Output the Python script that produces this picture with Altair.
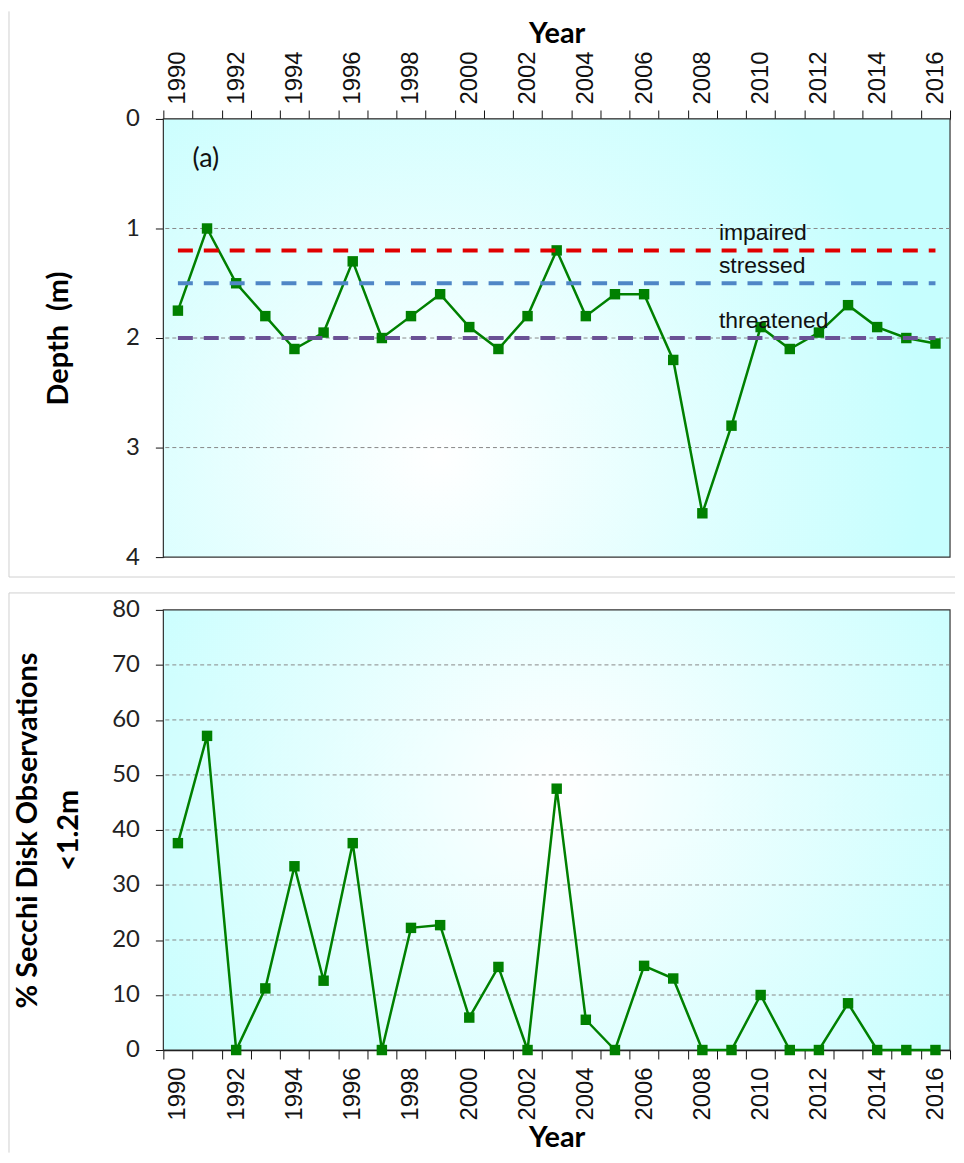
import altair as alt
import pandas as pd

# ---------------- data ----------------
years = list(range(1990, 2017))
depth_m = [1.75, 1.0, 1.5, 1.8, 2.1, 1.95, 1.3, 2.0, 1.8, 1.6, 1.9, 2.1, 1.8, 1.2,
           1.8, 1.6, 1.6, 2.2, 3.6, 2.8, 1.9, 2.1, 1.95, 1.7, 1.9, 2.0, 2.05]
pct_below = [37.6, 57.1, 0, 11.2, 33.4, 12.6, 37.6, 0, 22.2, 22.7, 5.9, 15.1, 0, 47.5,
             5.5, 0, 15.3, 13.0, 0, 0, 10.0, 0, 0, 8.5, 0, 0, 0]
thr_names = ["impaired", "stressed", "threatened"]
thr_values = [1.2, 1.5, 2.0]
thr_colors = ["#E00000", "#4F86C6", "#6A5195"]
thr_label_year = [2009, 2009, 2009]
depth_ticks = [0, 1, 2, 3, 4]
depth_grid = [1, 2, 3]
pct_ticks = list(range(0, 81, 10))
pct_grid = list(range(10, 80, 10))
panel_label = ["(a)"]
panel_label_year = [1991]
panel_label_depth = [0.37]

df_top = pd.DataFrame({"year": years, "depth": depth_m})
df_bot = pd.DataFrame({"year": years, "pct": pct_below})
thr_rows = []
for n, v in zip(thr_names, thr_values):
    thr_rows.append({"year": years[0], "value": v, "name": n})
    thr_rows.append({"year": years[-1], "value": v, "name": n})
df_thr = pd.DataFrame(thr_rows)
df_thr_lab = pd.DataFrame({"year": thr_label_year, "value": thr_values, "name": thr_names})
df_a = pd.DataFrame({"year": panel_label_year, "value": panel_label_depth, "label": panel_label})
df_gt = pd.DataFrame({"value": depth_grid})
df_gb = pd.DataFrame({"value": pct_grid})

# ---------------- style ----------------
GREEN = "#008000"
W, H_TOP, H_BOT = 790, 440, 442
LABEL_FONT = "Liberation Sans"
NUM_FONT = "Lato"
TITLE_FONT = "Lato"
FRAME = "#D0D0D0"


def grad(cx, cy):
    return {
        "gradient": "radial",
        "x1": cx, "y1": cy, "r1": 0,
        "x2": cx, "y2": cy, "r2": 0.62,
        "stops": [
            {"offset": 0, "color": "#FFFFFF"},
            {"offset": 1, "color": "#C6FEFE"},
        ],
    }


xscale = alt.Scale(type="band", domain=years, paddingInner=0, paddingOuter=0)


def x_axis(orient, label_pad, title_pad):
    return alt.Axis(
        orient=orient, title="Year", labelAngle=-90, tickBand="extent", grid=False,
        labelExpr="datum.value % 2 == 0 ? datum.label : ''",
        labelFont=LABEL_FONT, labelFontSize=24, labelColor="#111",
        labelPadding=label_pad, tickSize=9, tickColor="#111", domainColor="#111", domainWidth=1.5,
        titleFont=TITLE_FONT, titleFontSize=29, titleFontWeight="bold", titleColor="#000",
        titlePadding=title_pad,
    )


def y_axis(title, values, title_pad, **kw):
    return alt.Axis(
        title=title, values=values, grid=False, format="d",
        labelFont=NUM_FONT, labelFontSize=24, labelColor="#222",
        labelPadding=16, tickSize=8, tickColor="#111", domainColor="#111", domainWidth=1.5,
        titleFont=TITLE_FONT, titleFontSize=29, titleFontWeight="bold", titleColor="#000",
        titlePadding=title_pad, **kw,
    )


blank = alt.Data(values=[{}])


def background(cx, cy):
    return alt.Chart(blank).mark_rect(fill=grad(cx, cy), stroke="#333333", strokeWidth=1.2).encode(
        x=alt.value(0), x2=alt.value("width"), y=alt.value(0), y2=alt.value("height"))


def gridlines(df, field):
    return alt.Chart(df).mark_rule(color="#888888", strokeWidth=1, strokeDash=[4, 3]).encode(
        y=alt.Y(f"{field}:Q"))


# ---------------- top chart ----------------
xt = alt.X("year:O", scale=xscale, bandPosition=0.5, axis=x_axis("top", 6, 2))
yt = alt.Y("depth:Q", scale=alt.Scale(domain=[0, 4], reverse=True, nice=False, zero=False),
           axis=y_axis("Depth\u00a0 (m)", depth_ticks, 52))

top_line = alt.Chart(df_top).mark_line(color=GREEN, strokeWidth=2.5).encode(x=xt, y=yt)
top_pts = alt.Chart(df_top).mark_square(color=GREEN, size=110, opacity=1).encode(
    x=alt.X("year:O", bandPosition=0.5), y="depth:Q")
thr_lines = alt.Chart(df_thr).mark_line(strokeWidth=4, strokeDash=[15, 11]).encode(
    x=alt.X("year:O", bandPosition=0.5),
    y=alt.Y("value:Q"),
    color=alt.Color("name:N", scale=alt.Scale(domain=thr_names, range=thr_colors), legend=None),
    detail="name:N",
)
thr_text = alt.Chart(df_thr_lab).mark_text(
    align="left", baseline="alphabetic", dx=2, dy=-10, font=LABEL_FONT, fontSize=23, color="#111"
).encode(x=alt.X("year:O", bandPosition=0), y=alt.Y("value:Q"), text="name:N")
a_text = alt.Chart(df_a).mark_text(
    align="left", baseline="middle", font=NUM_FONT, fontSize=27, color="#111"
).encode(x=alt.X("year:O", bandPosition=0), y=alt.Y("value:Q"), text="label:N")

top_frame_left = alt.Chart(blank).mark_rule(color=FRAME, strokeWidth=1).encode(
    x=alt.value(-155), y=alt.value(-108), y2=alt.value(460))
top_frame_bottom = alt.Chart(blank).mark_rule(color=FRAME, strokeWidth=1).encode(
    x=alt.value(-155), x2=alt.value(795), y=alt.value(460))

top = alt.layer(background(0.35, 0.65), gridlines(df_gt, "value"),
                top_line, top_pts, thr_lines, thr_text, a_text,
                top_frame_left, top_frame_bottom).properties(width=W, height=H_TOP)

# ---------------- bottom chart ----------------
xb = alt.X("year:O", scale=xscale, bandPosition=0.5, axis=x_axis("bottom", 8, 3))
yb = alt.Y("pct:Q", scale=alt.Scale(domain=[0, 80], nice=False),
           axis=y_axis(["% Secchi Disk Observations", "<1.2m"], pct_ticks, 28,
                       titleLineHeight=42))

bot_line = alt.Chart(df_bot).mark_line(color=GREEN, strokeWidth=2.5).encode(x=xb, y=yb)
bot_pts = alt.Chart(df_bot).mark_square(color=GREEN, size=110, opacity=1).encode(
    x=alt.X("year:O", bandPosition=0.5), y="pct:Q")

bot_frame_top = alt.Chart(blank).mark_rule(color=FRAME, strokeWidth=1).encode(
    x=alt.value(-155), x2=alt.value(795), y=alt.value(-17))
bot_frame_left = alt.Chart(blank).mark_rule(color=FRAME, strokeWidth=1).encode(
    x=alt.value(-155), y=alt.value(-17), y2=alt.value(545))

bottom = alt.layer(background(0.5, 0.45), gridlines(df_gb, "value"),
                   bot_line, bot_pts, bot_frame_top, bot_frame_left).properties(
    width=W, height=H_BOT)

chart = alt.vconcat(top, bottom, spacing=14).properties(
    padding={"left": 0, "top": 0, "right": 0, "bottom": 0},
    background="white",
).configure_view(stroke=None)

chart.save("out.html", embed_options={"renderer": "svg", "actions": False})
